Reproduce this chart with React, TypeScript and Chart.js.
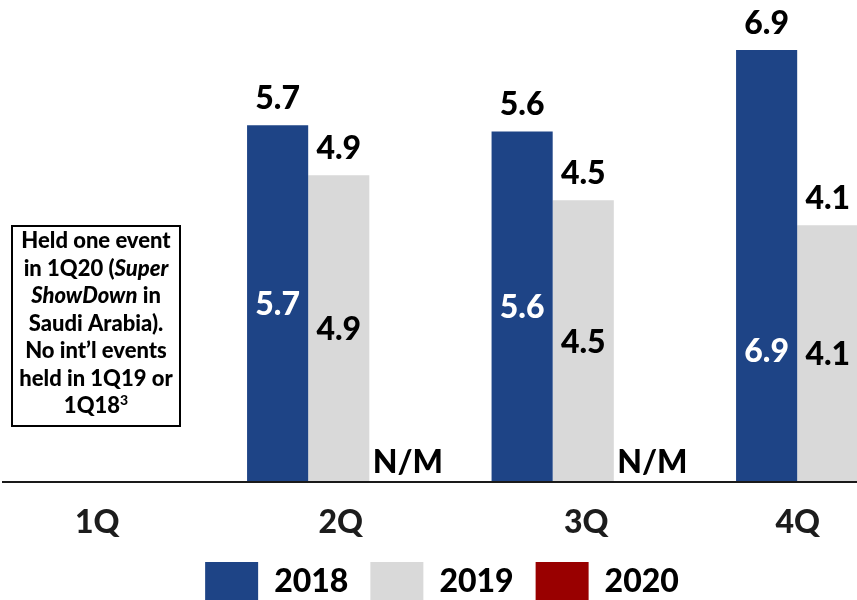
import React, { useEffect, useRef } from "react";
import { Chart, registerables } from "chart.js";

Chart.register(...registerables);

const categories = ["1Q", "2Q", "3Q", "4Q"];
const seriesNames = ["2018", "2019", "2020"];
const values2018: (number | null)[] = [null, 5.7, 5.6, 6.9];
const values2019: (number | null)[] = [null, 4.9, 4.5, 4.1];
const values2020: (number | null)[] = [null, null, null, null];
const notes2020 = ["", "N/M", "N/M", ""];
const noteLines: { t: string; i?: boolean; sup?: boolean }[][] = [
  [{ t: "Held one event" }],
  [{ t: "in 1Q20 (" }, { t: "Super", i: true }],
  [{ t: "ShowDown", i: true }, { t: " in" }],
  [{ t: "Saudi Arabia)." }],
  [{ t: "No int\u2019l events" }],
  [{ t: "held in 1Q19 or" }],
  [{ t: "1Q18" }, { t: "3", sup: true }],
];
const colors = ["#1E4486", "#D9D9D9", "#990000"];

const FONT = "Lato, 'Open Sans', sans-serif";
const W = 900;
const xLabelShift = [3, 2, 3, -30];

const labelsPlugin = {
  id: "customLabels",
  afterDatasetsDraw(chart: any) {
    const ctx = chart.ctx as CanvasRenderingContext2D;
    const { chartArea, scales } = chart;
    const xs = scales.x;
    const ys = scales.y;
    ctx.save();

    // baseline
    ctx.fillStyle = "#1a1a1a";
    ctx.fillRect(chartArea.left + 30, chartArea.bottom - 1, chartArea.right - chartArea.left, 2);

    ctx.font = `${W} 32px ${FONT}`;
    ctx.textAlign = "center";
    ctx.textBaseline = "alphabetic";
    [0, 1].forEach((di) => {
      const meta = chart.getDatasetMeta(di);
      const data = chart.data.datasets[di].data;
      meta.data.forEach((bar: any, i: number) => {
        const v = data[i];
        if (v == null) return;
        const { x: bx, y: by, base } = bar.getProps(["x", "y", "base"], true);
        const txt = Number(v).toFixed(1);
        ctx.fillStyle = "#000";
        ctx.fillText(txt, bx, by - 16);
        ctx.fillStyle = di === 0 ? "#fff" : "#000";
        let cy = (by + base) / 2;
        if (di === 0 && i === 3) cy = ys.getPixelForValue(2.1);
        ctx.fillText(txt, bx, cy + 11.5);
      });
    });

    // N/M markers for 2020
    const m0 = chart.getDatasetMeta(0);
    const m1 = chart.getDatasetMeta(1);
    ctx.fillStyle = "#000";
    notes2020.forEach((n, i) => {
      if (!n) return;
      const step = m1.data[i].x - m0.data[i].x;
      const cx = m1.data[i].x + step + 8;
      ctx.fillText(n, cx, chartArea.bottom - 9);
    });

    // category labels
    ctx.fillStyle = "#1c1c1c";
    categories.forEach((c, i) => {
      ctx.fillText(c, xs.getPixelForTick(i) + xLabelShift[i], chartArea.bottom + 51);
    });

    // note box
    const bl = chartArea.left + 39;
    const bt = chartArea.top + 225;
    ctx.strokeStyle = "#000";
    ctx.lineWidth = 2;
    ctx.strokeRect(bl + 1, bt + 1, 168, 200);
    const cx = bl + 85;
    const normal = `${W} 22px ${FONT}`;
    const ital = `italic ${W} 22px ${FONT}`;
    const sup = `${W} 14px ${FONT}`;
    ctx.fillStyle = "#000";
    ctx.textAlign = "left";
    noteLines.forEach((line, li) => {
      const y = bt + 23 + li * 27.5;
      let total = 0;
      const widths = line.map((s) => {
        ctx.font = s.sup ? sup : s.i ? ital : normal;
        const w = ctx.measureText(s.t).width;
        total += w;
        return w;
      });
      let x = cx - total / 2;
      line.forEach((s, k) => {
        ctx.font = s.sup ? sup : s.i ? ital : normal;
        ctx.fillText(s.t, x, s.sup ? y - 8 : y);
        x += widths[k];
      });
    });
    ctx.restore();
  },
};

export default function App() {
  const ref = useRef<HTMLCanvasElement | null>(null);
  useEffect(() => {
    if (!ref.current) return;
    const chart = new Chart(ref.current, {
      type: "bar",
      data: {
        labels: categories,
        datasets: [
          { label: seriesNames[0], data: values2018, backgroundColor: colors[0], borderWidth: 0 },
          { label: seriesNames[1], data: values2019, backgroundColor: colors[1], borderWidth: 0 },
          { label: seriesNames[2], data: values2020, backgroundColor: colors[2], borderWidth: 0 },
        ],
      },
      options: {
        responsive: false,
        animation: false,
        devicePixelRatio: 1,
        layout: { padding: 0 },
        datasets: { bar: { categoryPercentage: 0.75, barPercentage: 1 } },
        scales: {
          x: {
            grid: { display: false },
            border: { display: false },
            ticks: { display: false },
            afterFit: (s: any) => {
              s.height = 58;
            },
          },
          y: {
            min: 0,
            max: 7.7,
            grid: { display: false },
            border: { display: false },
            ticks: { display: false },
            afterFit: (s: any) => {
              s.width = 38;
            },
          },
        },
        plugins: {
          legend: {
            position: "bottom",
            labels: {
              font: { family: FONT, size: 32, weight: W },
              color: "#000",
              boxWidth: 53,
              boxHeight: 40,
              padding: 22,
            },
          },
          tooltip: { enabled: false },
        },
      } as any,
      plugins: [labelsPlugin],
    });
    return () => chart.destroy();
  }, []);
  return (
    <div
      style={{
        position: "absolute",
        left: 0,
        top: 0,
        width: 857,
        height: 600,
        overflow: "hidden",
        background: "#fff",
      }}
    >
      <canvas ref={ref} width={1016} height={612} style={{ position: "absolute", left: -66, top: 0 }} />
    </div>
  );
}
